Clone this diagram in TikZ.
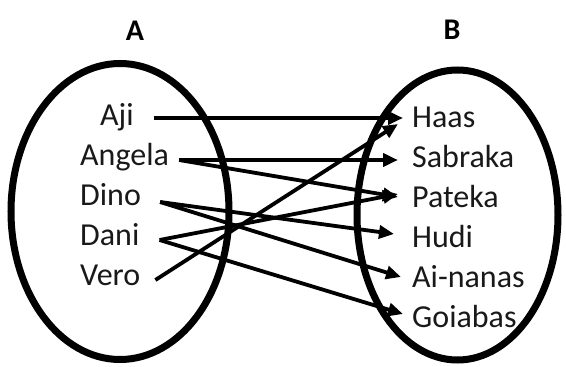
\documentclass[tikz,border=0pt]{standalone}
\usepackage{fontspec}
\setmainfont{Carlito}
\usetikzlibrary{arrows.meta}

\begin{document}
\begin{tikzpicture}[x=1pt,y=-1pt,
    elem/.style={anchor=base west, inner sep=0pt, text=black!90, font=\fontsize{32}{38}\selectfont},
    setlabel/.style={inner sep=0pt, font=\bfseries\fontsize{30}{36}\selectfont},
    setline/.style={line width=7pt},
    map/.style={line width=3.8pt, -{Triangle[length=15pt,width=13pt]}}]
    \useasboundingbox (0,0) rectangle (566,367);

    % Set A (domain)
    \draw[setline] (120,211.5) ellipse [x radius=109pt, y radius=148pt];
    \node[setlabel] (labA) at (135,31) {A};
    \node[elem] (aji) at (100,125) {Aji};
    \foreach \n/\t/\y in {angela/Angela/165, dino/Dino/205, dani/Dani/245, vero/Vero/285}
        \node[elem] (\n) at (80,\y) {\t};

    % Set B (codomain)
    \draw[setline] (457.5,215) ellipse [x radius=100.5pt, y radius=145pt];
    \node[setlabel] (labB) at (452,30) {B};
    \foreach \n/\t/\y in {haas/Haas/127, sabraka/Sabraka/167, pateka/Pateka/207,
                          hudi/Hudi/247, ainanas/Ai-nanas/287, goiabas/Goiabas/327}
        \node[elem] (\n) at (412,\y) {\t};

    % Mapping arrows
    \draw[map] ([xshift=20pt,yshift=7pt]aji.base east) -- ([xshift=-9pt,yshift=9pt]haas.base west);
    \draw[map] ([xshift=10pt,yshift=5pt]angela.base east) -- ([xshift=-14pt,yshift=7pt]sabraka.base west);
    \draw[map] ([xshift=10pt,yshift=5pt]angela.base east) -- ([xshift=-14pt,yshift=10pt]pateka.base west);
    \draw[map] ([xshift=19pt,yshift=3pt]dino.base east) -- ([xshift=-18pt,yshift=13pt]hudi.base west);
    \draw[map] ([xshift=19pt,yshift=3pt]dino.base east) -- ([xshift=-11pt,yshift=10pt]ainanas.base west);
    \draw[map] ([xshift=20pt,yshift=5pt]dani.base east) -- ([xshift=-14pt,yshift=13pt]pateka.base west);
    \draw[map] ([xshift=20pt,yshift=5pt]dani.base east) -- ([xshift=-9pt,yshift=13pt]goiabas.base west);
    \draw[map] ([xshift=15pt,yshift=5pt]vero.base east) -- ([xshift=-14pt,yshift=3pt]haas.base west);
\end{tikzpicture}
\end{document}
